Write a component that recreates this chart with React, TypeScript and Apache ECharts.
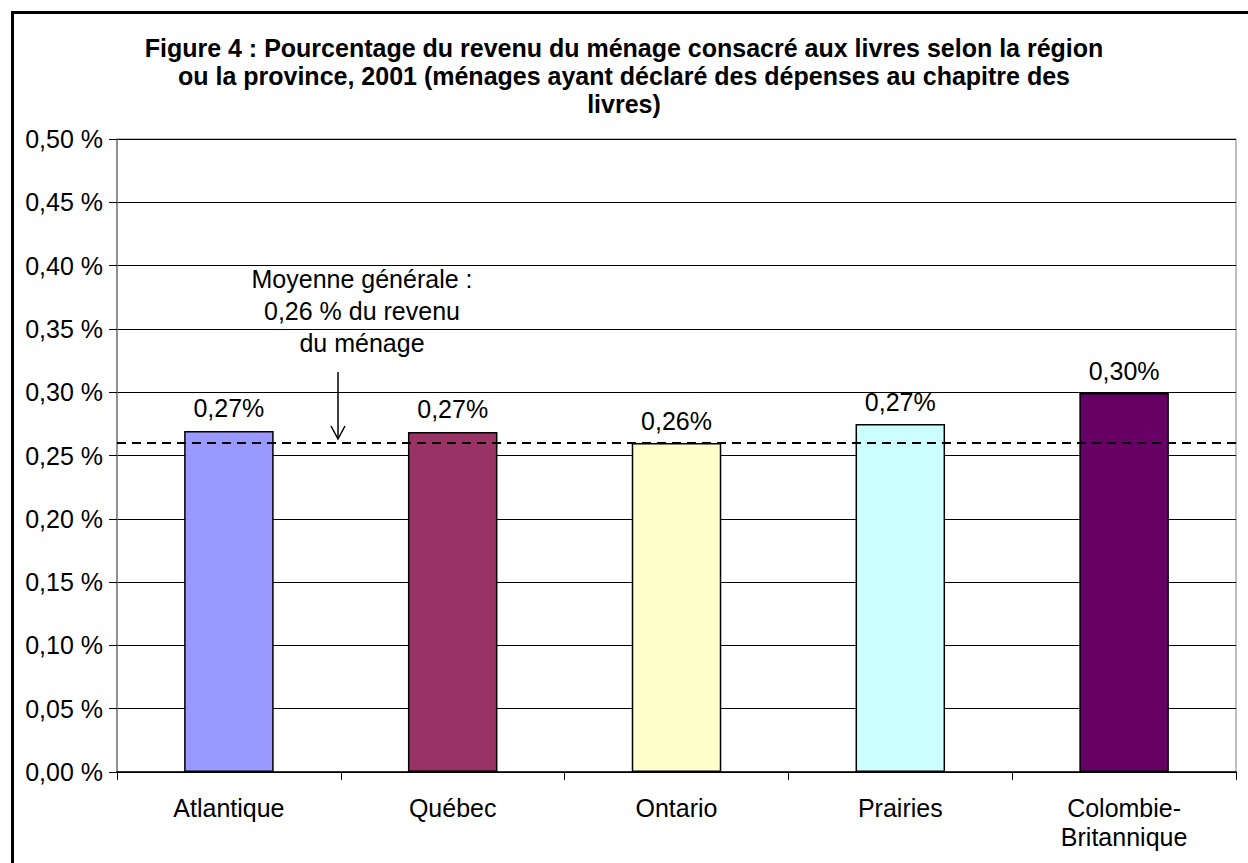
import React, { useEffect, useRef } from "react";
import * as echarts from "echarts";

const titleLines = [
  "Figure 4 : Pourcentage du revenu du ménage consacré aux livres selon la région",
  "ou la province, 2001 (ménages ayant déclaré des dépenses au chapitre des",
  "livres)",
];
const categories = ["Atlantique", "Québec", "Ontario", "Prairies", "Colombie-\nBritannique"];
const values = [0.2694, 0.2686, 0.2598, 0.2748, 0.2993];
const barColors = ["#9999FF", "#993366", "#FFFFCC", "#CCFFFF", "#660066"];
const averageValue = 0.2622;
const annotationLines = ["Moyenne générale :", "0,26 % du revenu", "du ménage"];
const yMin = 0;
const yMax = 0.5;
const yStep = 0.05;

const FONT = "'Liberation Sans', Arial, sans-serif";
const FS = 25;

export default function App() {
  const ref = useRef<HTMLDivElement>(null);
  useEffect(() => {
    document.body.style.margin = "0";
    if (!ref.current) return;
    const chart = echarts.init(ref.current, undefined, { renderer: "svg" });
    chart.setOption({
      animation: false,
      backgroundColor: "#ffffff",
      textStyle: { fontFamily: FONT },
      title: {
        text: titleLines.join("\n"),
        left: "center",
        top: 29,
        textStyle: {
          fontFamily: FONT,
          fontSize: FS,
          fontWeight: "bold",
          color: "#000",
          lineHeight: 28,
        },
      },
      grid: {
        left: 117,
        top: 139,
        right: 12,
        bottom: 91,
        show: true,
        borderColor: "#808080",
        borderWidth: 1,
        containLabel: false,
      },
      xAxis: {
        type: "category",
        data: categories,
        axisLine: { lineStyle: { color: "#000", width: 1.5 } },
        axisTick: { show: true, length: 8, lineStyle: { color: "#000" } },
        axisLabel: {
          color: "#000",
          fontSize: FS,
          fontFamily: FONT,
          margin: 21,
          lineHeight: 29,
          interval: 0,
        },
      },
      yAxis: {
        type: "value",
        min: yMin,
        max: yMax,
        interval: yStep,
        axisLine: { show: true, lineStyle: { color: "#808080", width: 1.5 } },
        axisTick: { show: true, length: 8, lineStyle: { color: "#000" } },
        axisLabel: {
          color: "#000",
          fontSize: FS,
          fontFamily: FONT,
          margin: 14,
          formatter: (v: number) => v.toFixed(2).replace(".", ",") + " %",
        },
        splitLine: { show: true, lineStyle: { color: "#000", width: 1 } },
      },
      series: [
        {
          type: "bar",
          barWidth: "40%",
          data: values.map((v, i) => ({
            value: v,
            itemStyle: { color: barColors[i], borderColor: "#000", borderWidth: 1.5 },
          })),
          label: {
            show: true,
            position: "top",
            distance: 10,
            color: "#000",
            fontSize: FS,
            fontFamily: FONT,
            formatter: (p: any) => p.value.toFixed(2).replace(".", ",") + "%",
          },
          markLine: {
            silent: true,
            symbol: "none",
            label: { show: false },
            lineStyle: { color: "#000", type: [9, 6], width: 2 },
            data: [{ yAxis: averageValue }],
          },
        },
      ],
      graphic: [
        {
          type: "rect",
          shape: { x: 12.5, y: 12.5, width: 1400, height: 1000 },
          style: { fill: "none", stroke: "#000", lineWidth: 3 },
          silent: true,
        },
        {
          type: "text",
          x: 362,
          y: 263,
          style: {
            text: annotationLines.join("\n"),
            align: "center",
            verticalAlign: "top",
            fontSize: FS,
            fontFamily: FONT,
            lineHeight: 32,
            fill: "#000",
          },
        },
        {
          type: "line",
          shape: { x1: 338, y1: 372, x2: 338, y2: 439 },
          style: { stroke: "#000", lineWidth: 1.5 },
        },
        {
          type: "polyline",
          shape: { points: [[331, 426], [338, 439], [345, 426]] },
          style: { stroke: "#000", lineWidth: 1.5, fill: "none" },
        },
      ],
    });
    return () => chart.dispose();
  }, []);
  return <div ref={ref} style={{ width: 1248, height: 863 }} />;
}
